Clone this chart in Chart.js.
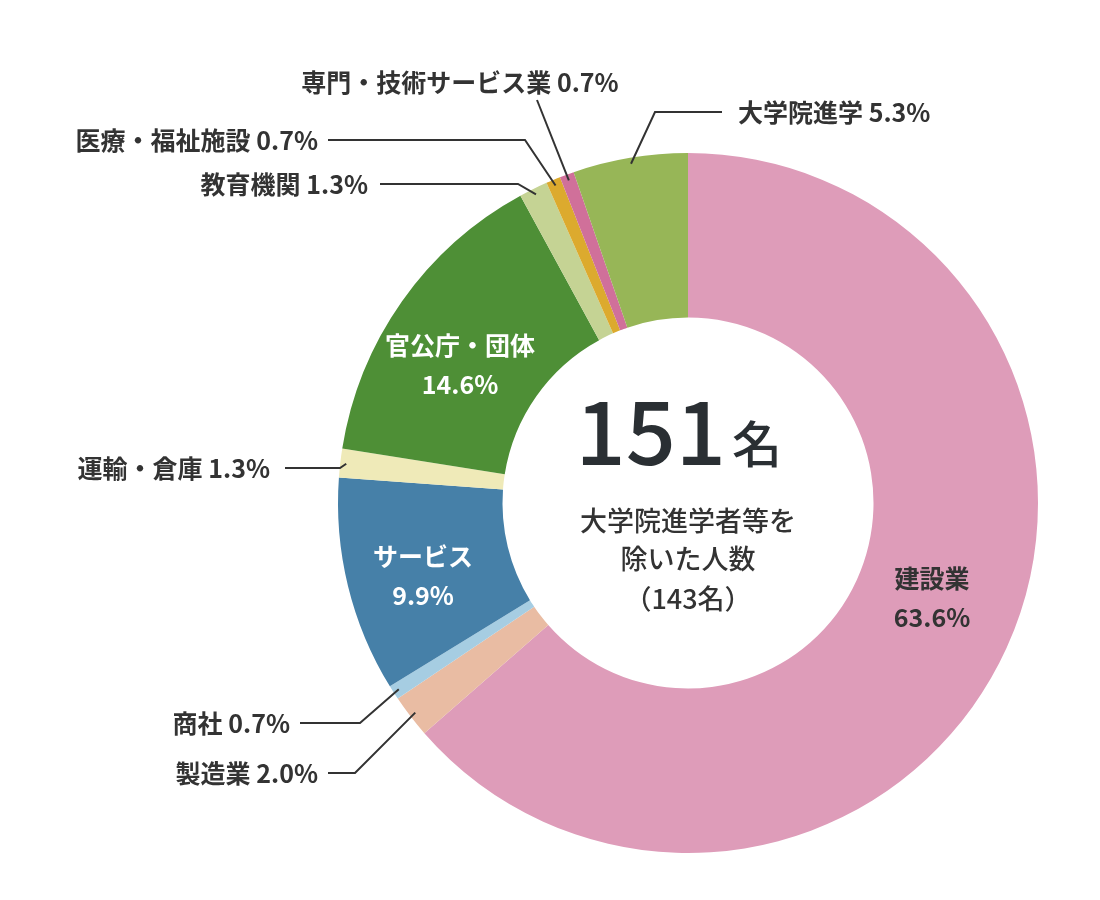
<!DOCTYPE html>
<html>
<head>
<meta charset="utf-8">
<script src="https://cdn.jsdelivr.net/npm/chart.js@4"></script>
<style>
  html, body { margin: 0; background: #fff; }
  #wrap { width: 1100px; height: 900px; }
</style>
</head>
<body>
<div id="wrap"><canvas id="pie"></canvas></div>
<script>
const categories = ["建設業", "製造業", "商社", "サービス", "運輸・倉庫", "官公庁・団体", "教育機関", "医療・福祉施設", "専門・技術サービス業", "大学院進学"];
const counts = [96, 3, 1, 15, 2, 22, 2, 1, 1, 8];
const percents = ["63.6%", "2.0%", "0.7%", "9.9%", "1.3%", "14.6%", "1.3%", "0.7%", "0.7%", "5.3%"];
const colors = ["#de9cb9", "#e9bca3", "#a6cde2", "#4680a8", "#efeab8", "#4e8f36", "#c5d394", "#dcaa2e", "#d0709a", "#97b657"];

const FONT = '"Noto Sans CJK JP", "Noto Sans", sans-serif';
const TEXT = "#333333";

// label placement: inside labels or outside with leader line (text anchor, knee)
const labelStyle = [
  { inside: true, x: 932, y: 578, color: TEXT },
  { x: 318, y: 773, align: "right", knee: [355, 773], start: [328, 773] },
  { x: 290, y: 723, align: "right", knee: [360, 723], start: [300, 723] },
  { inside: true, x: 423, y: 556, color: "#fff" },
  { x: 270, y: 468, align: "right", knee: [340, 468], start: [285, 468] },
  { inside: true, x: 460, y: 345, color: "#fff" },
  { x: 368, y: 184, align: "right", knee: [518, 184], start: [380, 184] },
  { x: 318, y: 140, align: "right", knee: [525, 140], start: [328, 140] },
  { x: 460, y: 82, align: "center", knee: [537, 100], start: [537, 100] },
  { x: 738, y: 112, align: "left", knee: [655, 112], start: [722, 112] }
];

const labelPlugin = {
  id: "labels",
  afterDraw(chart) {
    const ctx = chart.ctx;
    const arcs = chart.getDatasetMeta(0).data;
    ctx.save();
    ctx.textBaseline = "middle";
    arcs.forEach((arc, i) => {
      const s = labelStyle[i];
      if (s.inside) {
        ctx.fillStyle = s.color;
        ctx.textAlign = "center";
        ctx.font = "bold 25px " + FONT;
        ctx.fillText(categories[i], s.x, s.y);
        ctx.fillText(percents[i], s.x, s.y + 39);
        return;
      }
      const mid = (arc.startAngle + arc.endAngle) / 2;
      const r = arc.outerRadius - 6;
      const ex = arc.x + Math.cos(mid) * r;
      const ey = arc.y + Math.sin(mid) * r;
      ctx.strokeStyle = "#333";
      ctx.lineWidth = 2;
      ctx.beginPath();
      ctx.moveTo(s.start[0], s.start[1]);
      ctx.lineTo(s.knee[0], s.knee[1]);
      ctx.lineTo(ex, ey);
      ctx.stroke();
      ctx.fillStyle = TEXT;
      ctx.textAlign = s.align;
      ctx.font = "bold 25px " + FONT;
      ctx.fillText(categories[i] + " " + percents[i], s.x, s.y);
    });

    // center text
    const cx = arcs[0].x, cy = arcs[0].y;
    const total = counts.reduce((a, b) => a + b, 0);
    ctx.fillStyle = "#2a2f33";
    ctx.textAlign = "right";
    ctx.textBaseline = "alphabetic";
    ctx.font = "500 88px " + FONT;
    ctx.fillText(String(total), cx + 38, cy - 38);
    ctx.textAlign = "left";
    ctx.font = "500 50px " + FONT;
    ctx.fillText("名", cx + 44, cy - 40);
    ctx.textAlign = "center";
    ctx.textBaseline = "middle";
    ctx.fillStyle = TEXT;
    ctx.font = "500 27px " + FONT;
    ctx.fillText("大学院進学者等を", cx, cy + 18);
    ctx.fillText("除いた人数", cx, cy + 56);
    ctx.fillText("（" + (total - counts[9]) + "名）", cx, cy + 96);
    ctx.restore();
  }
};

new Chart(document.getElementById("pie"), {
  type: "doughnut",
  data: {
    labels: categories,
    datasets: [{ data: counts, backgroundColor: colors, borderWidth: 0 }]
  },
  options: {
    responsive: true,
    maintainAspectRatio: false,
    animation: false,
    cutout: "53%",
    layout: { padding: { left: 338, right: 62, top: 153, bottom: 47 } },
    plugins: { legend: { display: false }, tooltip: { enabled: false } }
  },
  plugins: [labelPlugin]
});
</script>
</body>
</html>
